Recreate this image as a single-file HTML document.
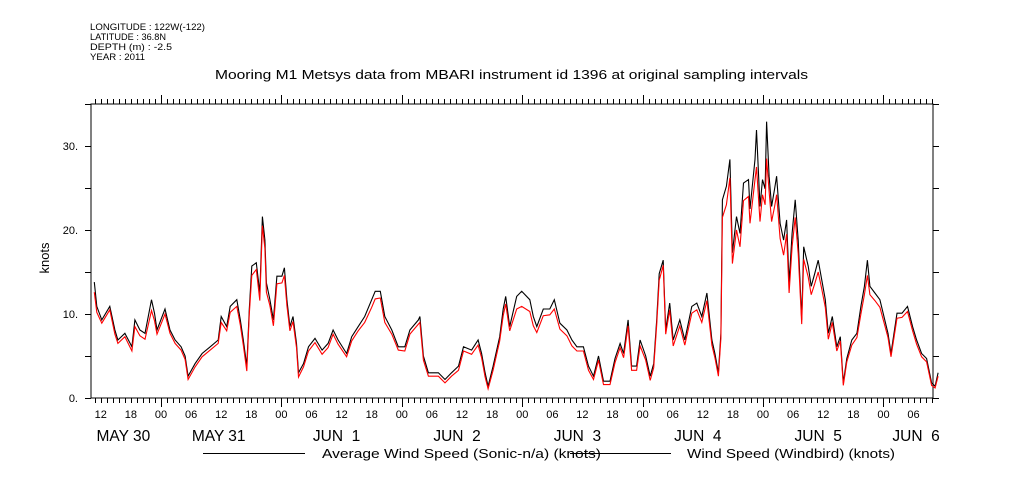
<!DOCTYPE html>
<html><head><meta charset="utf-8"><style>
body{margin:0;background:#fff;}
svg{display:block;font-family:"Liberation Sans",sans-serif;}
</style></head><body>
<svg id="chart" width="1009" height="504" viewBox="0 0 1009 504">
<g font-size="9" fill="#000">
<text x="90" y="30" textLength="115" lengthAdjust="spacingAndGlyphs">LONGITUDE : 122W(-122)</text>
<text x="90" y="40" textLength="76" lengthAdjust="spacingAndGlyphs">LATITUDE : 36.8N</text>
<text x="90" y="50" textLength="82" lengthAdjust="spacingAndGlyphs">DEPTH (m) : -2.5</text>
<text x="90" y="60" textLength="55" lengthAdjust="spacingAndGlyphs">YEAR : 2011</text>
</g>
<text x="215" y="79" textLength="593" lengthAdjust="spacingAndGlyphs" font-size="12.5">Mooring M1 Metsys data from MBARI instrument id 1396 at original sampling intervals</text>
<text transform="translate(49,258) rotate(-90)" text-anchor="middle" font-size="13">knots</text>
<g id="axes"></g>
<g id="series"></g>
<g font-size="13">
<line x1="203" y1="453.5" x2="305" y2="453.5" stroke="#000" stroke-width="1"/>
<text x="322" y="458" textLength="279" lengthAdjust="spacingAndGlyphs">Average Wind Speed (Sonic-n/a) (knots)</text>
<line x1="570" y1="453.5" x2="671" y2="453.5" stroke="#000" stroke-width="1"/>
<text x="687" y="458" textLength="208" lengthAdjust="spacingAndGlyphs">Wind Speed (Windbird) (knots)</text>
</g>
</svg>
<script>
// hours since May 30 00:00
const hours = [10.7,11.2,12.2,13.8,14.8,15.4,16.8,18.2,18.8,19.8,20.8,22.1,22.7,23.2,24.8,25.8,26.8,28.0,28.8,29.4,30.8,32.2,33.8,35.4,36.0,37.1,37.8,39.1,39.8,40.4,41.1,41.6,42.1,43.0,43.7,44.2,44.7,45.0,45.7,46.4,47.1,48.1,48.6,49.1,49.7,50.3,51.0,51.4,52.4,53.4,54.7,56.1,57.3,58.3,59.3,61.0,62.0,63.3,64.6,66.0,66.7,67.7,68.6,70.0,71.3,72.6,73.6,75.3,75.6,76.3,77.3,79.3,80.6,81.9,83.3,84.3,85.9,87.2,87.9,88.6,89.2,90.2,91.5,92.2,92.7,93.5,94.9,95.9,97.5,98.2,98.9,100.2,101.5,102.4,103.5,104.9,105.9,106.9,108.2,109.2,110.2,111.2,112.2,113.5,114.5,115.5,116.2,117.1,117.8,118.8,119.5,120.6,121.5,122.2,122.8,123.3,124.1,124.6,125.4,126.1,127.4,128.4,129.8,130.8,131.8,132.8,133.8,134.4,135.1,135.6,135.9,136.7,137.4,137.9,138.7,139.4,140.1,141.1,141.4,142.4,142.7,143.4,143.9,144.4,144.7,145.2,145.7,146.3,146.7,147.4,148.1,148.7,149.2,149.8,150.4,151.0,151.7,152.1,153.0,153.6,154.3,155.0,155.7,156.4,157.0,157.8,158.7,159.4,160.0,160.7,161.7,162.7,163.5,164.2,164.8,165.3,166.3,167.3,168.9,169.5,170.7,171.7,172.8,173.8,174.6,175.6,176.6,177.6,178.3,178.9];
const sonic = [13.8,10.9,9.3,10.9,8.1,6.9,7.7,6.1,9.3,8.1,7.7,11.7,10.1,8.1,10.6,8.1,6.9,6.1,5.0,2.6,4.1,5.3,6.1,6.9,9.7,8.5,10.9,11.7,9.3,6.9,3.8,10.6,15.7,16.1,12.5,21.6,18.8,13.7,11.7,9.3,14.5,14.5,15.5,11.7,8.5,9.7,6.5,3.0,4.1,6.1,7.1,5.7,6.5,8.1,6.9,5.3,7.3,8.5,9.7,11.7,12.7,12.7,9.7,8.1,6.1,6.1,8.1,9.3,9.7,5.0,3.0,3.0,2.2,3.0,3.8,6.1,5.7,6.9,5.3,3.0,1.4,3.8,7.3,10.6,12.1,8.5,12.1,12.7,11.7,9.7,8.5,10.6,10.6,11.7,8.9,8.1,6.9,6.1,6.1,3.8,2.6,5.0,2.0,2.0,4.7,6.5,5.3,9.3,3.8,3.8,6.9,5.0,2.6,4.1,9.3,14.8,16.4,8.1,11.3,6.9,9.3,6.9,10.9,11.3,9.7,12.5,6.9,5.3,3.0,7.7,23.6,25.2,28.4,17.3,21.6,19.6,25.6,26.0,22.5,28.4,31.9,22.8,26.0,24.9,32.9,26.4,22.8,24.9,26.4,20.8,18.8,21.2,13.7,19.6,23.6,18.8,9.3,18.0,15.7,13.3,14.8,16.4,14.1,11.7,7.7,9.7,6.1,7.3,1.8,4.7,6.9,7.7,10.9,13.3,16.4,13.3,12.5,11.7,7.7,5.3,10.1,10.1,10.9,8.5,6.9,5.3,4.7,1.8,1.4,3.0];
const windbird = [12.6,10.2,8.9,10.5,7.6,6.5,7.3,5.6,8.5,7.4,7.0,10.4,9.2,7.6,10.0,7.7,6.5,5.7,4.6,2.2,3.7,4.9,5.7,6.5,9.0,8.0,10.2,10.9,8.7,6.3,3.2,10.0,14.6,15.3,11.6,20.5,17.8,12.6,11.0,8.6,13.6,13.7,14.6,11.0,8.0,9.1,6.0,2.5,3.7,5.6,6.6,5.2,6.0,7.6,6.4,4.9,6.8,8.0,9.0,10.8,11.8,11.9,9.0,7.6,5.7,5.6,7.6,8.8,9.0,4.5,2.6,2.6,1.8,2.6,3.3,5.6,5.2,6.3,4.8,2.5,1.1,3.3,6.8,9.8,11.2,8.0,10.6,10.9,10.3,8.6,7.8,9.8,9.9,10.6,8.2,7.4,6.2,5.6,5.6,3.3,2.2,4.5,1.6,1.6,4.2,6.0,4.8,8.6,3.3,3.3,6.2,4.5,2.1,3.6,8.7,14.0,15.8,7.6,10.5,6.2,8.6,6.3,10.1,10.5,9.0,11.6,6.3,4.8,2.6,7.1,21.5,23.0,26.2,16.0,20.0,18.0,23.5,24.0,20.8,26.0,27.5,21.0,24.2,23.0,28.5,24.6,21.0,22.8,24.2,19.0,17.0,19.5,12.5,18.0,21.5,17.2,8.8,16.5,14.4,12.3,13.6,15.0,13.0,10.8,7.0,9.0,5.6,6.8,1.5,4.3,6.3,7.2,10.0,12.3,14.6,12.3,11.6,10.8,7.2,4.9,9.5,9.6,10.3,8.0,6.4,4.9,4.3,1.5,1.2,2.6];
const yTickVals = [0,10,20,30];
const yTickLabels = ["0.","10.","20.","30."];
const hourLabels = ["12","18","00","06"];
const dayLabels = ["MAY 30","MAY 31","JUN  1","JUN  2","JUN  3","JUN  4","JUN  5","JUN  6"];
const dayLabelHours = [16.5,35.5,59,83,107,131,155,174.5];

const L=91,R=933,T=104,B=398;
const H0=40.6, PX_PER_H=5.017;
const xs=h=>H0+h*PX_PER_H;
const ys=v=>B-v*8.4;
const NS='http://www.w3.org/2000/svg';
function mk(tag,attrs,parent){const e=document.createElementNS(NS,tag);for(const k in attrs)e.setAttribute(k,attrs[k]);parent.appendChild(e);return e;}
const axes=document.getElementById('axes');
const frame=mk('rect',{x:L,y:T,width:R-L,height:B-T,fill:'none',stroke:'#000','stroke-width':1},axes);


let d='';
for(let i=0;;i++){const h=i*1.2;const x=xs(h);if(x>R+0.5)break;if(x<L-0.5)continue;
 const major=(i%20===0);const xx=Math.round(x)+0.5;
 d+=`M${xx},${B}v${major?9:5}M${xx},${T}v${major?-9:-5}`;}
for(let k=0;k<=7;k++){const v=k*5;const y=Math.round(ys(v))+0.5;d+=`M${L},${y}h-6M${R},${y}h6`;}
const ticks=mk('path',{d:d,stroke:'#000','stroke-width':1,fill:'none'},axes);


yTickVals.forEach((v,i)=>{const t=mk('text',{x:78,y:ys(v)+4,'text-anchor':'end','font-size':11},axes);t.textContent=yTickLabels[i];
 
 });
for(let h=12;h<=178;h+=6){const t=mk('text',{x:xs(h),y:418,'text-anchor':'middle','font-size':11},axes);t.textContent=hourLabels[(h/6-2)%4];
 
 }
dayLabels.forEach((s,i)=>{const t=mk('text',{x:xs(dayLabelHours[i]),y:441,'text-anchor':'middle','font-size':15.5},axes);t.textContent=s;t.style.whiteSpace='pre';
 
 });
const series=document.getElementById('series');
function line(vals,color,name){const p=vals.map((v,i)=>`${i?'L':'M'}${xs(hours[i]).toFixed(1)},${ys(v).toFixed(1)}`).join('');
 const e=mk('path',{d:p,stroke:color,'stroke-width':1.1,fill:'none'},series);
 
 }
line(sonic,'#000','sonic-line');
line(windbird,'#f00','windbird-line');
</script>
</body></html>
